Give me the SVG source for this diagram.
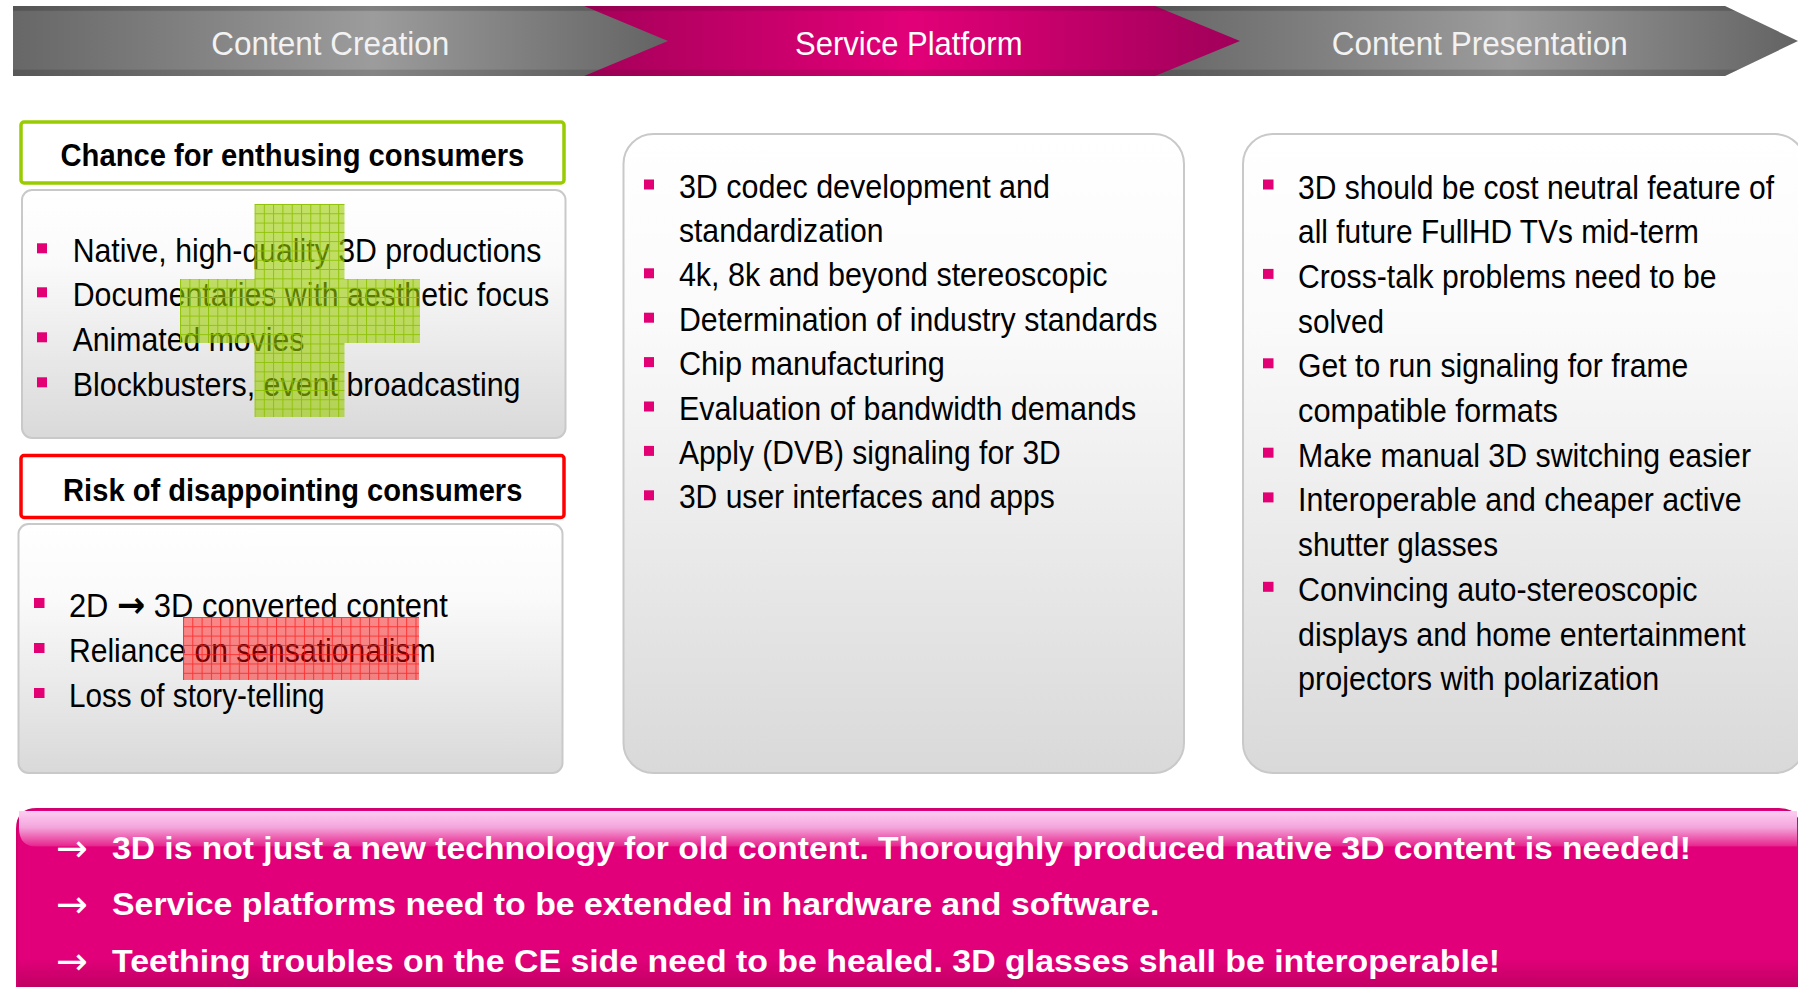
<svg xmlns="http://www.w3.org/2000/svg" width="1798" height="987" viewBox="0 0 1798 987">
<defs>
  <linearGradient id="gGray" x1="0" y1="0" x2="1" y2="0">
    <stop offset="0" stop-color="#676767"/>
    <stop offset="0.55" stop-color="#9c9c9c"/>
    <stop offset="1" stop-color="#636363"/>
  </linearGradient>
  <linearGradient id="gPink" x1="0" y1="0" x2="1" y2="0">
    <stop offset="0" stop-color="#a6005a"/>
    <stop offset="0.5" stop-color="#e20078"/>
    <stop offset="1" stop-color="#a0005a"/>
  </linearGradient>
  <linearGradient id="gEdge" x1="0" y1="0" x2="0" y2="1">
    <stop offset="0" stop-color="#000" stop-opacity="0.18"/>
    <stop offset="0.06" stop-color="#000" stop-opacity="0.18"/>
    <stop offset="0.08" stop-color="#000" stop-opacity="0"/>
    <stop offset="0.9" stop-color="#000" stop-opacity="0"/>
    <stop offset="0.92" stop-color="#000" stop-opacity="0.15"/>
    <stop offset="1" stop-color="#000" stop-opacity="0.15"/>
  </linearGradient>
  <linearGradient id="gBox" x1="0" y1="0" x2="0" y2="1">
    <stop offset="0" stop-color="#ffffff"/>
    <stop offset="0.3" stop-color="#fafafa"/>
    <stop offset="1" stop-color="#d9d9d9"/>
  </linearGradient>
  <linearGradient id="gConc" x1="0" y1="0" x2="0" y2="1">
    <stop offset="0" stop-color="#e2007a"/>
    <stop offset="0.8" stop-color="#e2007a"/>
    <stop offset="1" stop-color="#b8005e"/>
  </linearGradient>
  <linearGradient id="gGloss" x1="0" y1="0" x2="0" y2="1">
    <stop offset="0" stop-color="#fccdf2"/>
    <stop offset="0.45" stop-color="#f4a6dc"/>
    <stop offset="1" stop-color="#e6208a"/>
  </linearGradient>
  <pattern id="pGreen" patternUnits="userSpaceOnUse" x="254.5" y="204" width="9.3" height="9.3">
    <rect width="9.3" height="9.3" fill="#99cc00" fill-opacity="0.6"/>
    <path d="M0.5,0 V9.3 M0,0.5 H9.3" stroke="#8cc000" stroke-width="1" stroke-opacity="0.9" fill="none"/>
  </pattern>
  <pattern id="pRed" patternUnits="userSpaceOnUse" x="183" y="617" width="9.3" height="9.3">
    <rect width="9.3" height="9.3" fill="#ff0000" fill-opacity="0.45"/>
    <path d="M0.5,0 V9.3 M0,0.5 H9.3" stroke="#ff1010" stroke-width="1" stroke-opacity="0.7" fill="none"/>
  </pattern>
</defs>
<style>
  .ban { font-family: "Liberation Sans", Arial, sans-serif; font-size: 34px; fill: #f2f2f2; }
  .hdr { font-family: "Liberation Sans", Arial, sans-serif; font-size: 31px; font-weight: bold; fill: #000; }
  .txt { font-family: "Liberation Sans", Arial, sans-serif; font-size: 33px; fill: #000; }
  .con { font-family: "Liberation Sans", Arial, sans-serif; font-size: 31px; font-weight: bold; fill: #ffffff; }
  .arr { font-family: "DejaVu Sans", "Liberation Sans", sans-serif; font-size: 38px; fill: #ffffff; }
  .barr { font-family: "DejaVu Sans", sans-serif; font-size: 36px; font-weight: bold; }
  .box { fill: url(#gBox); stroke: #c9c9c9; stroke-width: 2; }
  .bul { fill: #e20074; }
</style>

<g id="banner-presentation">
  <polygon points="1155,6 1725,6 1798,41 1725,76 1155,76" fill="url(#gGray)"/>
  <polygon points="1155,6 1725,6 1798,41 1725,76 1155,76" fill="url(#gEdge)"/>
  <text class="ban" x="1331.7" y="54.5" textLength="296" lengthAdjust="spacingAndGlyphs">Content Presentation</text>
</g>
<g id="banner-platform">
  <polygon points="584,6 1155,6 1240,41 1155,76 584,76" fill="url(#gPink)"/>
  <polygon points="584,6 1155,6 1240,41 1155,76 584,76" fill="url(#gEdge)" opacity="0.6"/>
  <text class="ban" x="795" y="54.5" style="fill:#ffffff" textLength="227.5" lengthAdjust="spacingAndGlyphs">Service Platform</text>
</g>
<g id="banner-creation">
  <polygon points="13,6 584,6 668,41 584,76 13,76" fill="url(#gGray)"/>
  <polygon points="13,6 584,6 668,41 584,76 13,76" fill="url(#gEdge)"/>
  <text class="ban" x="211.3" y="54.5" textLength="238" lengthAdjust="spacingAndGlyphs">Content Creation</text>
</g>

<g id="node-chance-header">
  <rect x="21" y="122" width="543" height="61" rx="3" fill="#ffffff" stroke="#99cc00" stroke-width="3.5"/>
  <text class="hdr" x="60.5" y="166" textLength="463.8" lengthAdjust="spacingAndGlyphs">Chance for enthusing consumers</text>
</g>

<g id="node-chance-box">
  <rect class="box" x="22" y="190" width="543.5" height="248" rx="10"/>
  <rect class="bul" x="37" y="243.3" width="10" height="10"/>
  <rect class="bul" x="37" y="287.3" width="10" height="10"/>
  <rect class="bul" x="37" y="332.3" width="10" height="10"/>
  <rect class="bul" x="37" y="377.3" width="10" height="10"/>
  <text class="txt" x="72.7" y="261.7" textLength="468.8" lengthAdjust="spacingAndGlyphs">Native, high-quality 3D productions</text>
  <text class="txt" x="72.7" y="305.7" textLength="476.5" lengthAdjust="spacingAndGlyphs">Documentaries with aesthetic focus</text>
  <text class="txt" x="72.7" y="350.7" textLength="231.6" lengthAdjust="spacingAndGlyphs">Animated movies</text>
  <text class="txt" x="72.7" y="395.7" textLength="447.8" lengthAdjust="spacingAndGlyphs">Blockbusters, event broadcasting</text>
  <path d="M254.5,204 H344.5 V279 H420 V343 H344.5 V417 H254.5 V343 H180 V279 H254.5 Z" fill="url(#pGreen)"/>
</g>

<g id="node-risk-header">
  <rect x="21" y="455.5" width="543" height="62" rx="3" fill="#ffffff" stroke="#ff0000" stroke-width="3.5"/>
  <text class="hdr" x="63.1" y="501" textLength="459.3" lengthAdjust="spacingAndGlyphs">Risk of disappointing consumers</text>
</g>

<g id="node-risk-box">
  <rect class="box" x="18.5" y="524" width="544" height="249" rx="10"/>
  <rect class="bul" x="34" y="598" width="10.5" height="10"/>
  <rect class="bul" x="34" y="643" width="10.5" height="10"/>
  <rect class="bul" x="34" y="688" width="10.5" height="10"/>
  <text class="txt" x="68.9" y="616.7" textLength="378.9" lengthAdjust="spacingAndGlyphs">2D <tspan class="barr">→</tspan> 3D converted content</text>
  <text class="txt" x="68.9" y="661.7" textLength="366.6" lengthAdjust="spacingAndGlyphs">Reliance on sensationalism</text>
  <text class="txt" x="68.9" y="706.5" textLength="255.6" lengthAdjust="spacingAndGlyphs">Loss of story-telling</text>
  <rect x="183" y="617" width="236" height="63" fill="url(#pRed)"/>
</g>

<g id="node-platform">
  <rect class="box" x="623.5" y="134" width="560.5" height="639" rx="30"/>
  <rect class="bul" x="644" y="179.5" width="10" height="10"/>
  <rect class="bul" x="644" y="268.3" width="10" height="10"/>
  <rect class="bul" x="644" y="312.7" width="10" height="10"/>
  <rect class="bul" x="644" y="357.1" width="10" height="10"/>
  <rect class="bul" x="644" y="401.5" width="10" height="10"/>
  <rect class="bul" x="644" y="445.9" width="10" height="10"/>
  <rect class="bul" x="644" y="490.3" width="10" height="10"/>
  <text class="txt" x="678.9" y="197.5" textLength="371.1" lengthAdjust="spacingAndGlyphs">3D codec development and</text>
  <text class="txt" x="678.9" y="241.9" textLength="204.7" lengthAdjust="spacingAndGlyphs">standardization</text>
  <text class="txt" x="678.9" y="286.3" textLength="428.6" lengthAdjust="spacingAndGlyphs">4k, 8k and beyond stereoscopic</text>
  <text class="txt" x="678.9" y="330.7" textLength="478.4" lengthAdjust="spacingAndGlyphs">Determination of industry standards</text>
  <text class="txt" x="678.9" y="375.1" textLength="266" lengthAdjust="spacingAndGlyphs">Chip manufacturing</text>
  <text class="txt" x="678.9" y="419.5" textLength="457.3" lengthAdjust="spacingAndGlyphs">Evaluation of bandwidth demands</text>
  <text class="txt" x="678.9" y="463.9" textLength="381.9" lengthAdjust="spacingAndGlyphs">Apply (DVB) signaling for 3D</text>
  <text class="txt" x="678.9" y="508.3" textLength="375.8" lengthAdjust="spacingAndGlyphs">3D user interfaces and apps</text>
</g>

<g id="node-presentation">
  <rect class="box" x="1243" y="134" width="562" height="639" rx="30"/>
  <rect class="bul" x="1263" y="179.5" width="10.5" height="10"/>
  <rect class="bul" x="1263" y="268.9" width="10.5" height="10"/>
  <rect class="bul" x="1263" y="358.3" width="10.5" height="10"/>
  <rect class="bul" x="1263" y="447.7" width="10.5" height="10"/>
  <rect class="bul" x="1263" y="492.4" width="10.5" height="10"/>
  <rect class="bul" x="1263" y="581.8" width="10.5" height="10"/>
  <text class="txt" x="1298.1" y="198.5" textLength="476" lengthAdjust="spacingAndGlyphs">3D should be cost neutral feature of</text>
  <text class="txt" x="1298.1" y="243.2" textLength="400.9" lengthAdjust="spacingAndGlyphs">all future FullHD TVs mid-term</text>
  <text class="txt" x="1298.1" y="287.9" textLength="418.5" lengthAdjust="spacingAndGlyphs">Cross-talk problems need to be</text>
  <text class="txt" x="1298.1" y="332.6" textLength="85.9" lengthAdjust="spacingAndGlyphs">solved</text>
  <text class="txt" x="1298.1" y="377.3" textLength="390.2" lengthAdjust="spacingAndGlyphs">Get to run signaling for frame</text>
  <text class="txt" x="1298.1" y="422" textLength="259.8" lengthAdjust="spacingAndGlyphs">compatible formats</text>
  <text class="txt" x="1298.1" y="466.7" textLength="452.9" lengthAdjust="spacingAndGlyphs">Make manual 3D switching easier</text>
  <text class="txt" x="1298.1" y="511.4" textLength="443.5" lengthAdjust="spacingAndGlyphs">Interoperable and cheaper active</text>
  <text class="txt" x="1298.1" y="556.1" textLength="199.9" lengthAdjust="spacingAndGlyphs">shutter glasses</text>
  <text class="txt" x="1298.1" y="600.8" textLength="399.3" lengthAdjust="spacingAndGlyphs">Convincing auto-stereoscopic</text>
  <text class="txt" x="1298.1" y="645.5" textLength="447.5" lengthAdjust="spacingAndGlyphs">displays and home entertainment</text>
  <text class="txt" x="1298.1" y="690.2" textLength="361.2" lengthAdjust="spacingAndGlyphs">projectors with polarization</text>
</g>

<g id="node-conclusion">
  <path d="M17,995 V829 Q17,809 37,809 H1779 Q1799,809 1799,829 V995 Z" fill="url(#gConc)" stroke="#d0006c" stroke-width="2"/>
  <path d="M19,811 H1797 V847 H38 Q19,847 19,828 Z" fill="url(#gGloss)"/>
  <rect x="19" y="846" width="1778" height="4" fill="#e2007a" opacity="0.6"/>
  <text class="arr" x="56" y="861">→</text>
  <text class="arr" x="56" y="917">→</text>
  <text class="arr" x="56" y="973.5">→</text>
  <text class="con" x="112" y="859.3" textLength="1579" lengthAdjust="spacingAndGlyphs">3D is not just a new technology for old content. Thoroughly produced native 3D content is needed!</text>
  <text class="con" x="112" y="915" textLength="1047.5" lengthAdjust="spacingAndGlyphs">Service platforms need to be extended in hardware and software.</text>
  <text class="con" x="112" y="971.5" textLength="1388" lengthAdjust="spacingAndGlyphs">Teething troubles on the CE side need to be healed. 3D glasses shall be interoperable!</text>
</g>

<g id="connectors"/>
</svg>
